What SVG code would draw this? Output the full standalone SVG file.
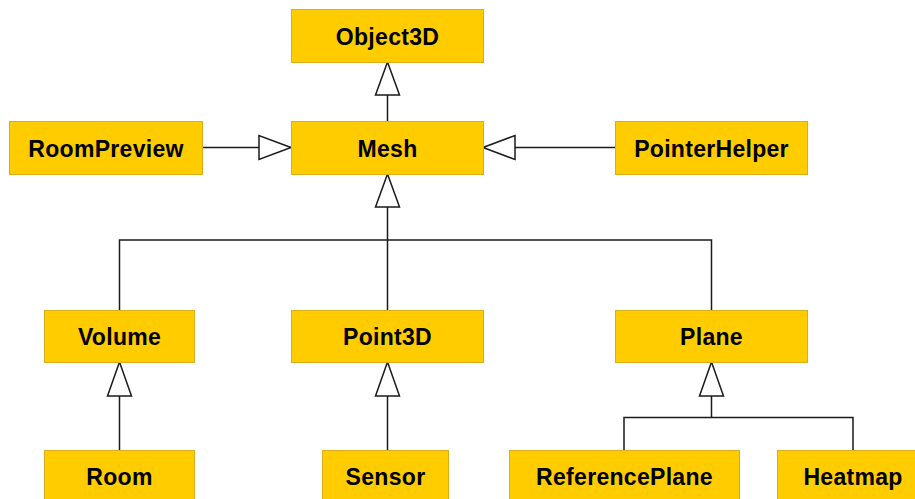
<svg xmlns="http://www.w3.org/2000/svg" width="915" height="499" viewBox="0 0 915 499">
<style>
.box{fill:#FFCC00;stroke:#D9AE1A;stroke-width:1}
.lbl{font-family:"Liberation Sans",Arial,sans-serif;font-weight:bold;font-size:23px;letter-spacing:0.3px;fill:#000;text-anchor:middle}
.ln{fill:none;stroke:#1a1a1a;stroke-width:1.5}
.tri{fill:#fff;stroke:#1a1a1a;stroke-width:1.5;stroke-linejoin:miter}
</style>
<rect width="915" height="499" fill="#fff"/>
<g id="connectors">
  <path class="ln" d="M387.5 121V95"/>
  <polygon class="tri" points="387.5,62 375.5,95 399.5,95"/>
  <path class="ln" d="M202 147.5H259"/>
  <polygon class="tri" points="291,147.5 259,135.5 259,159.5"/>
  <path class="ln" d="M615 147.5H515"/>
  <polygon class="tri" points="483,147.5 515,135.5 515,159.5"/>
  <path class="ln" d="M387.5 207V240M119.5 310V240H711.5V310M387.5 240V310"/>
  <polygon class="tri" points="387.5,174 375.5,207 399.5,207"/>
  <path class="ln" d="M119.5 396V450"/>
  <polygon class="tri" points="119.5,362 107.5,396 131.5,396"/>
  <path class="ln" d="M387.5 396V450"/>
  <polygon class="tri" points="387.5,362 375.5,396 399.5,396"/>
  <path class="ln" d="M711.5 396V417.5M624 450V417.5H853V450"/>
  <polygon class="tri" points="711.5,362 699.5,396 723.5,396"/>
</g>
<g id="Object3D"><rect class="box" x="291.5" y="9.5" width="192" height="53"/><text class="lbl" x="387.5" y="44.5">Object3D</text></g>
<g id="Mesh"><rect class="box" x="291.5" y="121.5" width="192" height="53"/><text class="lbl" x="387.5" y="156.5">Mesh</text></g>
<g id="RoomPreview"><rect class="box" x="9.5" y="121.5" width="193" height="53"/><text class="lbl" x="106" y="156.5">RoomPreview</text></g>
<g id="PointerHelper"><rect class="box" x="615.5" y="121.5" width="192" height="53"/><text class="lbl" x="711.5" y="156.5">PointerHelper</text></g>
<g id="Volume"><rect class="box" x="44.5" y="310.5" width="150" height="52"/><text class="lbl" x="119.5" y="345">Volume</text></g>
<g id="Point3D"><rect class="box" x="291.5" y="310.5" width="192" height="52"/><text class="lbl" x="387.5" y="345">Point3D</text></g>
<g id="Plane"><rect class="box" x="615.5" y="310.5" width="192" height="52"/><text class="lbl" x="711.5" y="345">Plane</text></g>
<g id="Room"><rect class="box" x="44.5" y="450.5" width="150" height="52"/><text class="lbl" x="119.5" y="485">Room</text></g>
<g id="Sensor"><rect class="box" x="322.5" y="450.5" width="126" height="52"/><text class="lbl" x="385.5" y="485">Sensor</text></g>
<g id="ReferencePlane"><rect class="box" x="509.5" y="450.5" width="230" height="52"/><text class="lbl" x="624.5" y="485">ReferencePlane</text></g>
<g id="Heatmap"><rect class="box" x="777.5" y="450.5" width="152" height="52"/><text class="lbl" x="853" y="485">Heatmap</text></g>
</svg>
